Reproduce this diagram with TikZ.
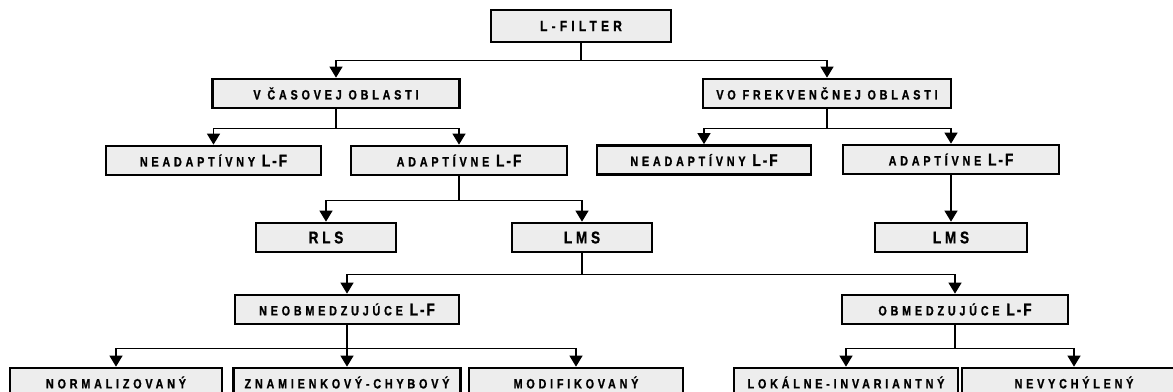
\documentclass[tikz,border=0pt]{standalone}
\usepackage{fontspec}
\setmainfont{Liberation Sans}
\usetikzlibrary{arrows.meta}
\newcommand{\lsfont}{\bfseries\fontsize{13.5}{15}\selectfont\addfontfeatures{FakeStretch=0.8,FakeBold=1,LetterSpace=28}}
\newcommand{\bigLF}{{\fontsize{17}{17}\selectfont\addfontfeatures{FakeStretch=0.8,FakeBold=1,LetterSpace=12}L-F}}
\tikzset{
  box/.style={draw, line width=2.7pt, fill=black!7, inner sep=0pt, minimum height=29pt, font=\lsfont, text=black},
  bigbox/.style={box, font=\bfseries\fontsize{17}{18}\selectfont\addfontfeatures{FakeStretch=0.8,FakeBold=1,LetterSpace=22}},
  conn/.style={line width=1.3pt},
  arr/.style={conn, -{Triangle[length=11pt,width=13pt]}},
}
\begin{document}
\begin{tikzpicture}[x=1pt,y=-1pt]
\useasboundingbox (0,0) rectangle (1173,391);
% nodes
\node[box, minimum width=180pt, minimum height=32pt, font=\bfseries\fontsize{15}{16}\selectfont\addfontfeatures{FakeStretch=0.8,FakeBold=1,LetterSpace=28}] (lf) at (581,26) {L-FILTER};
\node[box, minimum width=247pt] (vcas) at (336,93.5) {V ČASOVEJ OBLASTI};
\node[box, minimum width=248pt] (vofr) at (827,93.5) {VO FREKVENČNEJ OBLASTI};
\node[box, minimum width=215pt] (na1) at (213.5,160.5) {NEADAPTÍVNY \bigLF};
\node[box, minimum width=216pt] (ad1) at (459,160.5) {ADAPTÍVNE \bigLF};
\node[box, minimum width=214pt] (na2) at (704,160) {NEADAPTÍVNY \bigLF};
\node[box, minimum width=216pt] (ad2) at (951,159.5) {ADAPTÍVNE \bigLF};
\node[bigbox, minimum width=140pt] (rls) at (326,237.5) {RLS};
\node[bigbox, minimum width=140pt] (lms1) at (582,237.5) {LMS};
\node[bigbox, minimum width=152pt] (lms2) at (951,237.5) {LMS};
\node[box, minimum width=224pt] (neob) at (347,309.5) {NEOBMEDZUJÚCE \bigLF};
\node[box, minimum width=226pt] (obm) at (955,309.5) {OBMEDZUJÚCE \bigLF};
\node[box, minimum width=212pt] (norm) at (116,382.5) {NORMALIZOVANÝ};
\node[box, minimum width=227pt] (znam) at (347,382.5) {ZNAMIENKOVÝ-CHYBOVÝ};
\node[box, minimum width=214pt] (modif) at (576,382.5) {MODIFIKOVANÝ};
\node[box, minimum width=224pt] (lokal) at (846,382.5) {LOKÁLNE-INVARIANTNÝ};
\node[box, minimum width=224pt] (nevy) at (1074,382.5) {NEVYCHÝLENÝ};
% connectors
\draw[arr] (lf.south) -- ++(0,17) -| (vcas.north);
\draw[arr] (lf.south) -- ++(0,17) -| (vofr.north);
\draw[arr] (vcas.south) -- ++(0,19) -| (na1.north);
\draw[arr] (vcas.south) -- ++(0,19) -| (ad1.north);
\draw[arr] (vofr.south) -- ++(0,19) -| (na2.north);
\draw[arr] (vofr.south) -- ++(0,19) -| (ad2.north);
\draw[arr] (ad1.south) -- ++(0,24) -| (rls.north);
\draw[arr] (ad1.south) -- ++(0,24) -| (lms1.north);
\draw[arr] (ad2.south) -- (lms2.north);
\draw[arr] (lms1.south) -- ++(0,21) -| (neob.north);
\draw[arr] (lms1.south) -- ++(0,21) -| (obm.north);
\draw[arr] (neob.south) -- ++(0,23) -| (norm.north);
\draw[arr] (neob.south) -- (znam.north);
\draw[arr] (neob.south) -- ++(0,23) -| (modif.north);
\draw[arr] (obm.south) -- ++(0,23) -| (lokal.north);
\draw[arr] (obm.south) -- ++(0,23) -| (nevy.north);
\end{tikzpicture}
\end{document}
